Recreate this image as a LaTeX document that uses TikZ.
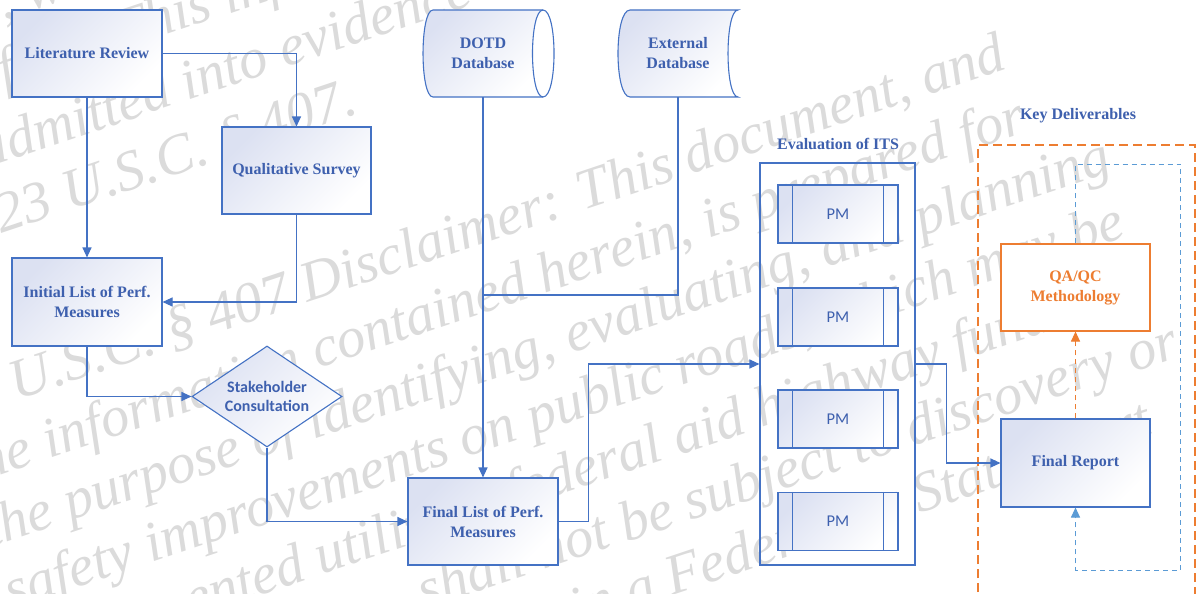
\documentclass[tikz,border=0pt]{standalone}
\usepackage{fontspec}
\setmainfont{Liberation Serif}
\newfontfamily\carlito{Carlito}
\usetikzlibrary{arrows.meta,shapes.geometric}
\definecolor{lnblue}{RGB}{68,114,196}
\definecolor{txblue}{RGB}{62,96,174}
\definecolor{lav}{RGB}{220,225,242}
\definecolor{orng}{RGB}{237,125,49}
\definecolor{ltblue}{RGB}{91,155,213}
\definecolor{wmgray}{RGB}{219,219,219}
\begin{document}
\begin{tikzpicture}[x=1pt,y=-1pt,
  wmark/.style={text=wmgray, font=\itshape\fontsize{57}{60}\selectfont, anchor=base west, rotate=18.5, inner sep=0pt},
  gshade/.style={top color=lav, bottom color=white, shading angle=45},
  box/.style={draw=lnblue, line width=1.1pt, gshade, text=txblue, font=\bfseries\fontsize{16}{20}\selectfont, align=center, inner sep=0pt, minimum width=150pt, minimum height=87pt},
  pmbox/.style={draw=lnblue, line width=1.1pt, gshade, text=txblue, font=\carlito\fontsize{16.5}{20}\selectfont, inner sep=0pt, minimum width=120pt, minimum height=58pt},
  lbl/.style={text=txblue, font=\bfseries\fontsize{16}{20}\selectfont, align=center, inner sep=0pt},
  conn/.style={draw=lnblue, line width=1.1pt, -{Triangle[length=10pt,width=9pt]}},
  plain/.style={draw=lnblue, line width=1.1pt},
  oconn/.style={draw=orng, line width=1.1pt, dash pattern=on 5pt off 4pt, -{Triangle[length=10pt,width=9pt]}},
  bconn/.style={draw=ltblue, line width=1.1pt, dash pattern=on 5pt off 4pt, -{Triangle[length=10pt,width=9pt]}}
]
\useasboundingbox (0,0) rectangle (1197,594);
\clip (0,0) rectangle (1197,594);
\fill[white] (0,0) rectangle (1197,594);

% watermark
\node[wmark] (w0) at (3.6,21) {, w};
\node[wmark] (w1a) at (4.3,89) {f};
\node[wmark] (w1b) at (121.2,50) {This information};
\node[wmark] (w2) at (-15.2,168.3) {admitted into evidence};
\node[wmark] (w3) at (1.3,233.3) {23 U.S.C. § 407.};
\node[wmark] (w4) at (-51.3,422.9) {23 U.S.C. § 407 Disclaimer: This document, and};
\node[wmark] (w5) at (-30.3,485.5) {the information contained herein, is prepared for};
\node[wmark] (w6) at (-9.6,547.6) {the purpose of identifying, evaluating, and planning};
\node[wmark] (w7) at (11.2,609.7) {safety improvements on public roads, which may be};
\node[wmark] (w8) at (32.0,671.8) {implemented utilizing federal aid highway funds;};
\node[wmark] (w9) at (424.6,609.5) {shall not be subject to discovery or};
\node[wmark] (w10) at (73.6,796.1) {admitted into evidence in a Federal or State court};

% boxes
\node[box] (lit) at (87,53.5) {Literature Review};
\node[box, minimum width=149pt] (qual) at (296.5,170.5) {Qualitative Survey};
\node[box, minimum height=88pt] (init) at (87,302) {Initial List of Perf.\\Measures};
\node[box] (final) at (483,521.5) {Final List of Perf.\\Measures};
\node[diamond, draw=lnblue, line width=1.1pt, gshade, aspect=1.5, inner sep=0pt,
      minimum width=150pt, minimum height=101pt, text=txblue, align=center,
      font=\carlito\bfseries\fontsize{16}{19}\selectfont] (sc) at (267,396.5) {Stakeholder\\Consultation};

% databases
\shade[gshade] (433,10) -- (543,10) -- (543,97) -- (433,97) .. controls (419.7,97) and (419.7,10) .. (433,10) -- cycle;
\fill[white] (543,10) .. controls (557.7,10) and (557.7,97) .. (543,97) .. controls (529,97) and (529,10) .. (543,10) -- cycle;
\draw[plain] (433,10) -- (543,10) .. controls (557.7,10) and (557.7,97) .. (543,97) -- (433,97) .. controls (419.7,97) and (419.7,10) .. (433,10) -- cycle;
\draw[plain] (543,10) .. controls (529,10) and (529,97) .. (543,97);
\node[lbl, minimum width=100pt, minimum height=87pt] (dotd) at (483,53.5) {DOTD\\Database};

\shade[gshade] (630,10) -- (738,10) .. controls (724.7,10) and (724.7,97) .. (738,97) -- (630,97) .. controls (614,97) and (614,10) .. (630,10) -- cycle;
\draw[plain] (630,10) -- (738,10) .. controls (724.7,10) and (724.7,97) .. (738,97) -- (630,97) .. controls (614,97) and (614,10) .. (630,10) -- cycle;
\node[lbl, minimum width=100pt, minimum height=87pt] (ext) at (678,53.5) {External\\Database};

% evaluation of ITS
\node[lbl] (evallbl) at (838,144) {Evaluation of ITS};
\node[draw=lnblue, line width=1.1pt, minimum width=155pt, minimum height=402pt, inner sep=0pt] (eval) at (837.5,364) {};
\foreach \i/\y in {1/214,2/317,3/419,4/521.5}{
  \node[pmbox] (pm\i) at (838,\y) {PM};
  \draw[plain] ([xshift=15pt]pm\i.north west) -- ([xshift=15pt]pm\i.south west);
  \draw[plain] ([xshift=-15pt]pm\i.north east) -- ([xshift=-15pt]pm\i.south east);
}

% key deliverables
\node[lbl] (keylbl) at (1078,116) {Key Deliverables};
\coordinate (kd1) at (978,620);
\coordinate (kd2) at (978,145);
\coordinate (kd3) at (1195,145);
\coordinate (kd4) at (1195,620);
\draw[orng, line width=1.5pt, dash pattern=on 9pt off 5pt] (kd1) -- (kd2) -- (kd3) -- (kd4);
\node[box, fill=white, top color=white, bottom color=white, draw=orng, text=orng, minimum width=149pt] (qa) at (1075.5,287.5) {QA/QC\\Methodology};
\node[box, minimum width=149pt, minimum height=88pt] (frep) at (1075.5,463) {Final Report};

% connectors
\draw[conn] (lit.east) -- (qual.north |- lit.east) -- (qual.north);
\draw[conn] (lit.south) -- (init.north);
\draw[conn] (qual.south) |- (init.east);
\draw[conn] (init.south) |- (sc.west);
\draw[conn] (sc.south) |- (final.west);
\draw[conn] (dotd.south) -- (final.north);
\coordinate (jn) at (483,295);
\draw[plain] (ext.south) |- (jn);
\draw[conn] (final.east) -- ++(30,0) |- (eval.west);
\draw[conn] (eval.east) -- ++(31,0) |- (frep.west);
\draw[oconn] (frep.north) -- (qa.south);
\draw[bconn] (qa.north) -- ++(0,-79) -- ++(105,0) -- ++(0,406) -| (frep.south);
\end{tikzpicture}
\end{document}
